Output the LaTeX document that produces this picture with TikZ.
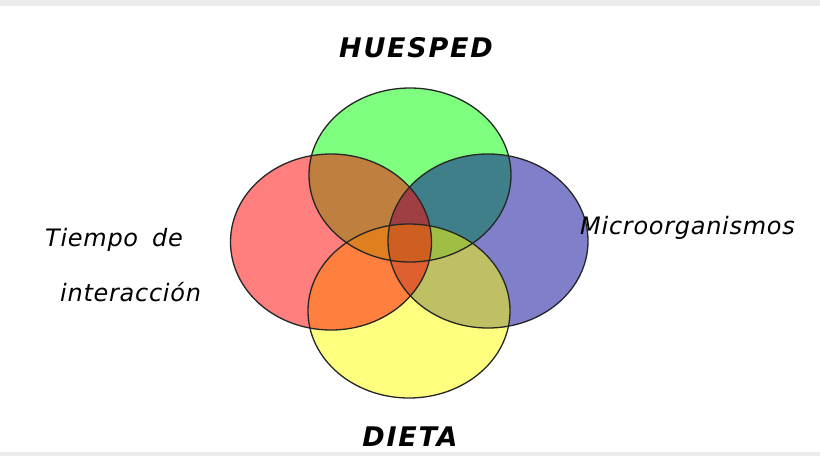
\documentclass[tikz,border=0pt]{standalone}
\usepackage{fontspec}
\setmainfont{DejaVu Sans}
\newfontfamily\comic[LetterSpace=3]{DejaVu Sans}
\newfontfamily\comicwide[LetterSpace=6.5]{DejaVu Sans}
\usetikzlibrary{shapes.geometric}
\definecolor{cgreen}{RGB}{0,255,0}
\definecolor{cred}{RGB}{255,0,0}
\definecolor{cblue}{RGB}{0,0,150}
\definecolor{cyellow}{RGB}{255,255,0}
\definecolor{frame}{RGB}{236,236,236}
\tikzset{
  blob/.style={ellipse, inner sep=0pt, fill opacity=0.5},
  rim/.style={draw=black!85, line width=1.3pt},
  title/.style={font=\comicwide\fontsize{27}{30}\selectfont\bfseries\itshape, inner sep=0pt},
  side/.style={font=\comic\fontsize{24}{28}\selectfont\itshape, inner sep=0pt, anchor=west}
}
\begin{document}
\begin{tikzpicture}[x=1pt,y=-1pt]
\useasboundingbox (0,0) rectangle (820,456);
\fill[white] (0,0) rectangle (820,456);
\fill[frame] (0,0) rectangle (820,6);
\fill[frame] (0,452) rectangle (820,456);
% fills in paint order
\node[blob, fill=cgreen, minimum width=202pt, minimum height=174pt] (g) at (410,175) {};
\node[blob, fill=cblue, minimum width=200pt, minimum height=174pt] (b) at (488,241) {};
\node[blob, fill=cyellow, minimum width=202pt, minimum height=174pt] (y) at (409,311) {};
\node[blob, fill=cred, minimum width=201pt, minimum height=176pt] (r) at (331,242) {};
% outlines
\draw[rim] (g.center) ellipse [x radius=101, y radius=87];
\draw[rim] (b.center) ellipse [x radius=100, y radius=87];
\draw[rim] (y.center) ellipse [x radius=101, y radius=87];
\draw[rim] (r.center) ellipse [x radius=100.5, y radius=88];
% labels
\node[title] (hu) at (416,48) {HUESPED};
\node[title] (di) at (410,437) {DIETA};
\node[side] (ti) at (45,240) {Tiempo\hspace{14pt}de};
\node[side] (in) at (60,292) {interacción};
\node[side] (mi) at (580,228) {Microorganismos};
\end{tikzpicture}
\end{document}
